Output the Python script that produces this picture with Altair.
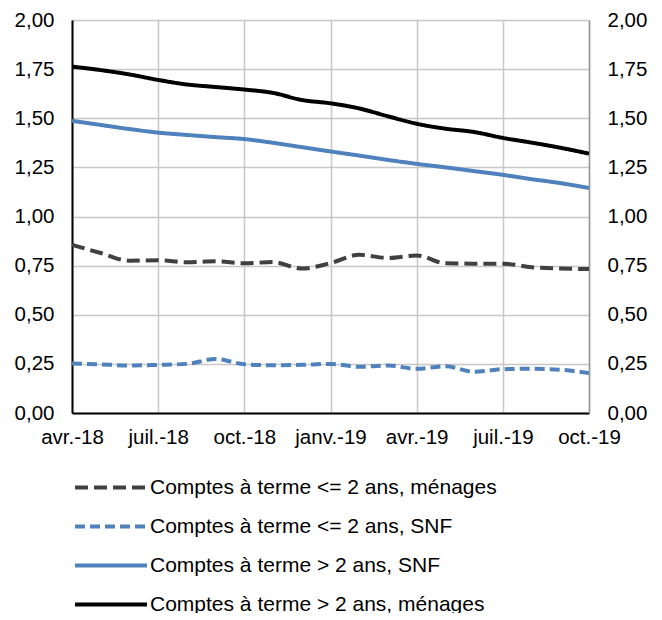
import altair as alt
import pandas as pd

months = ["avr.-18", "mai-18", "juin-18", "juil.-18", "août-18", "sept.-18", "oct.-18",
          "nov.-18", "déc.-18", "janv.-19", "févr.-19", "mars-19", "avr.-19", "mai-19",
          "juin-19", "juil.-19", "août-19", "sept.-19", "oct.-19"]

series_names = [
    "Comptes à terme <= 2 ans, ménages",
    "Comptes à terme <= 2 ans, SNF",
    "Comptes à terme > 2 ans, SNF",
    "Comptes à terme > 2 ans, ménages",
]

menages_court = [0.856, 0.814, 0.775, 0.777, 0.767, 0.772, 0.762, 0.768, 0.735, 0.763,
                 0.805, 0.789, 0.802, 0.762, 0.760, 0.760, 0.742, 0.735, 0.733]
snf_court = [0.252, 0.247, 0.242, 0.245, 0.250, 0.275, 0.248, 0.243, 0.245, 0.250,
             0.235, 0.242, 0.225, 0.238, 0.210, 0.223, 0.225, 0.220, 0.203]
snf_long = [1.487, 1.466, 1.445, 1.427, 1.415, 1.404, 1.394, 1.375, 1.353, 1.331,
            1.310, 1.288, 1.268, 1.250, 1.231, 1.212, 1.190, 1.170, 1.145]
menages_long = [1.763, 1.745, 1.723, 1.695, 1.672, 1.659, 1.646, 1.629, 1.593, 1.576,
                1.550, 1.510, 1.472, 1.447, 1.430, 1.400, 1.376, 1.350, 1.320]

colors = ["#404040", "#4F81BD", "#4F81BD", "#000000"]
dashes = [[13, 6], [10, 5], [1, 0], [1, 0]]

values_by_series = [menages_court, snf_court, snf_long, menages_long]
rows = []
for name, vals in zip(series_names, values_by_series):
    for i, v in enumerate(vals):
        rows.append({"idx": i, "mois": months[i], "serie": name, "valeur": v})
df = pd.DataFrame(rows)

FONT = "Liberation Sans"
label_array = "[" + ",".join("'" + m + "'" for m in months) + "]"
y_label_expr = "replace(format(datum.value, '.2f'), '.', ',')"

x_enc = alt.X(
    "idx:Q",
    scale=alt.Scale(domain=[0, len(months) - 1], nice=False, zero=False),
    axis=alt.Axis(
        values=list(range(0, len(months), 3)),
        labelExpr=label_array + "[datum.value]",
        title=None, ticks=False, grid=True, gridColor="#C8C8C8", gridWidth=1.5,
        domainColor="#000000", domainWidth=2, labelFontSize=20.5, labelFont=FONT,
        labelColor="#000000", labelPadding=14, labelFlush=False,
    ),
)

y_scale = alt.Scale(domain=[0, 2], nice=False)
y_values = [i * 0.25 for i in range(9)]

lines = alt.Chart(df).mark_line(strokeWidth=4, interpolate="monotone").encode(
    x=x_enc,
    y=alt.Y("valeur:Q", scale=y_scale, axis=alt.Axis(
        values=y_values, labelExpr=y_label_expr, title=None, ticks=False,
        grid=True, gridColor="#C8C8C8", gridWidth=1.5, domainColor="#000000", domainWidth=2,
        labelFontSize=20.5, labelFont=FONT, labelColor="#000000", labelPadding=18,
        orient="left")),
    color=alt.Color("serie:N", scale=alt.Scale(domain=series_names, range=colors),
                    legend=alt.Legend(title=None)),
    strokeDash=alt.StrokeDash("serie:N", scale=alt.Scale(domain=series_names, range=dashes),
                              legend=alt.Legend(title=None)),
    order="idx:Q",
)

right_axis = alt.Chart(df).mark_line(opacity=0).encode(
    x=alt.X("idx:Q", scale=alt.Scale(domain=[0, len(months) - 1], nice=False, zero=False)),
    y=alt.Y("valeur:Q", scale=y_scale, axis=alt.Axis(
        values=y_values, labelExpr=y_label_expr, title=None, ticks=False, grid=False,
        domainColor="#999999", domainWidth=1.5, labelFontSize=20.5, labelFont=FONT,
        labelColor="#000000", labelPadding=18, orient="right")),
    detail="serie:N",
)

chart = alt.layer(lines, right_axis).resolve_axis(y="independent").properties(
    width=517, height=393,
    autosize=alt.AutoSizeParams(type="none"),
    padding={"left": 64, "top": 12, "right": 65, "bottom": 200},
).configure_view(stroke=None).configure_legend(
    orient="none", legendX=1, legendY=448, direction="vertical",
    symbolType="stroke", symbolSize=5184, symbolStrokeWidth=4,
    labelFontSize=21, labelFont=FONT, labelColor="#000000", labelLimit=0,
    labelOffset=1, rowPadding=0, clipHeight=39,
)

chart.save("out.html", embed_options={"renderer": "svg", "actions": False})
